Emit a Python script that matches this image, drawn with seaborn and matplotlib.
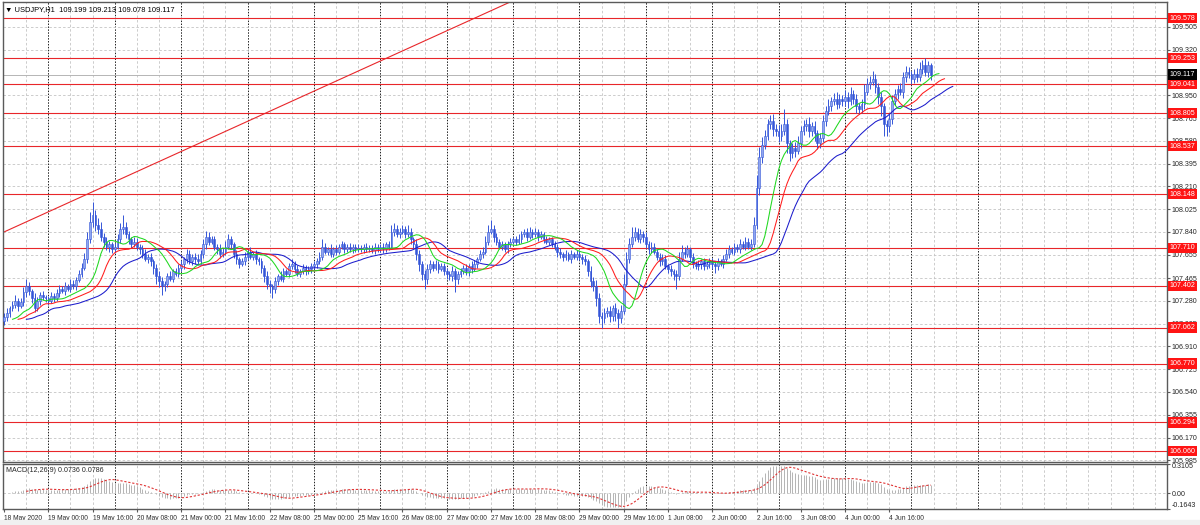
import numpy as np
import pandas as pd
import matplotlib
matplotlib.use("Agg")
import matplotlib.pyplot as plt
import matplotlib.transforms as mtransforms
from matplotlib.patches import Rectangle
import seaborn as sns

# USDJPY H1, one close per bar (open = previous close)
first_open = 107.12
closes = [
    # 18 May (from 08:00)
    107.15, 107.18, 107.22, 107.25, 107.28, 107.24, 107.27, 107.35, 107.40, 107.36, 107.30, 107.22, 107.28, 107.33, 107.31, 107.30,
    # 19 May
    107.28, 107.32, 107.30, 107.34, 107.38, 107.36, 107.40, 107.38, 107.42, 107.40, 107.45, 107.50, 107.55, 107.62, 107.78, 107.92,
    107.98, 107.90, 107.86, 107.80, 107.76, 107.72, 107.74, 107.70,
    # 20 May
    107.72, 107.78, 107.86, 107.88, 107.82, 107.78, 107.74, 107.76, 107.72, 107.70, 107.66, 107.62, 107.64, 107.60, 107.55, 107.48,
    107.44, 107.40, 107.42, 107.48, 107.46, 107.52, 107.50, 107.55,
    # 21 May
    107.58, 107.62, 107.66, 107.60, 107.64, 107.62, 107.60, 107.66, 107.74, 107.80, 107.76, 107.78, 107.72, 107.70, 107.66, 107.68,
    107.72, 107.78, 107.74, 107.66, 107.62, 107.58, 107.60, 107.64,
    # 22 May
    107.68, 107.64, 107.66, 107.62, 107.60, 107.55, 107.48, 107.42, 107.40, 107.38, 107.44, 107.48, 107.46, 107.52, 107.50, 107.56,
    107.58, 107.54, 107.50, 107.52, 107.55, 107.52, 107.54, 107.56,
    # 25 May
    107.58, 107.60, 107.64, 107.72, 107.68, 107.70, 107.66, 107.70, 107.68, 107.72, 107.74, 107.70, 107.72, 107.70, 107.72, 107.70,
    107.71, 107.70, 107.72, 107.70, 107.71, 107.69, 107.72, 107.70,
    # 26 May
    107.72, 107.70, 107.74, 107.72, 107.84, 107.86, 107.82, 107.84, 107.86, 107.82, 107.84, 107.78, 107.74, 107.66, 107.58, 107.50,
    107.46, 107.54, 107.58, 107.55, 107.58, 107.54, 107.56, 107.52,
    # 27 May
    107.50, 107.48, 107.52, 107.46, 107.50, 107.52, 107.55, 107.52, 107.56, 107.54, 107.58, 107.62, 107.66, 107.68, 107.76, 107.84,
    107.86, 107.80, 107.76, 107.72, 107.74, 107.70, 107.74, 107.76,
    # 28 May
    107.78, 107.76, 107.78, 107.82, 107.84, 107.80, 107.84, 107.82, 107.84, 107.80, 107.82, 107.78, 107.76, 107.78, 107.74, 107.72,
    107.68, 107.66, 107.64, 107.66, 107.62, 107.66, 107.64, 107.66,
    # 29 May
    107.64, 107.62, 107.60, 107.52, 107.44, 107.40, 107.30, 107.16, 107.14, 107.18, 107.20, 107.16, 107.22, 107.18, 107.14, 107.20,
    107.42, 107.62, 107.74, 107.80, 107.84, 107.78, 107.82, 107.80,
    # 1 Jun
    107.74, 107.70, 107.72, 107.68, 107.64, 107.60, 107.62, 107.56, 107.54, 107.52, 107.50, 107.48, 107.62, 107.68, 107.66, 107.70,
    107.64, 107.58, 107.56, 107.58, 107.60, 107.56, 107.58, 107.60,
    # 2 Jun
    107.58, 107.56, 107.60, 107.58, 107.62, 107.66, 107.70, 107.68, 107.72, 107.70, 107.74, 107.72, 107.76, 107.72, 107.74, 107.90,
    108.20, 108.45, 108.55, 108.62, 108.72, 108.74, 108.68, 108.66,
    # 3 Jun
    108.62, 108.66, 108.72, 108.56, 108.48, 108.52, 108.50, 108.56, 108.66, 108.70, 108.72, 108.66, 108.70, 108.64, 108.56, 108.60,
    108.74, 108.82, 108.86, 108.90, 108.92, 108.88, 108.92, 108.90,
    # 4 Jun
    108.94, 108.90, 108.96, 108.92, 108.86, 108.84, 108.88, 108.98, 109.04, 109.06, 109.08, 109.02, 108.94, 108.86, 108.72, 108.70,
    108.76, 108.90, 108.96, 109.00, 108.98, 109.10, 109.14, 109.12,
    # 5 Jun
    109.08, 109.12, 109.10, 109.16, 109.20, 109.14, 109.199, 109.117,
]
# wick lengths in pips (0.01) above / below the candle body
up_wick = [
    3, 4, 2, 3, 5, 2, 3, 4, 6, 3, 2, 4, 3, 2, 3, 2,
    2, 3, 2, 4, 3, 2, 3, 2, 4, 3, 2, 3, 4, 5, 6, 8, 10, 4, 5, 6, 3, 4, 3, 2,
    3, 4, 5, 10, 4, 3, 2, 4, 3, 2, 3, 4, 2, 3, 2, 3, 4, 3, 2, 3, 4, 2, 3, 3,
    3, 2, 4, 3, 2, 3, 4, 3, 4, 5, 4, 3, 3, 2, 4, 3, 5, 4, 3, 2, 3, 2, 3, 4,
    3, 4, 2, 3, 2, 3, 2, 4, 3, 2, 3, 2, 4, 3, 2, 3, 4, 2, 3, 2, 3, 2, 2, 3,
    2, 3, 4, 6, 3, 2, 4, 2, 3, 2, 3, 2, 2, 3, 2, 2, 3, 2, 2, 3, 2, 2, 3, 2,
    2, 3, 2, 3, 6, 5, 4, 3, 4, 3, 6, 3, 2, 4, 3, 2, 3, 4, 3, 2, 3, 2, 3, 3,
    3, 2, 4, 3, 2, 3, 2, 3, 2, 4, 3, 2, 3, 4, 5, 6, 8, 4, 3, 2, 3, 2, 3, 3,
    2, 3, 4, 3, 2, 3, 4, 2, 3, 2, 3, 2, 3, 2, 2, 3, 2, 3, 2, 3, 2, 3, 2, 3,
    3, 2, 3, 2, 4, 3, 5, 4, 3, 4, 3, 4, 3, 4, 3, 5, 8, 6, 5, 8, 4, 3, 4, 3,
    4, 3, 4, 3, 2, 3, 4, 3, 2, 3, 2, 3, 6, 5, 4, 3, 2, 3, 2, 3, 2, 3, 2, 3,
    3, 2, 3, 2, 3, 4, 3, 2, 3, 2, 4, 3, 4, 3, 4, 6, 10, 8, 6, 5, 4, 5, 6, 4,
    5, 6, 12, 4, 3, 4, 5, 6, 4, 5, 4, 5, 3, 4, 3, 4, 5, 4, 6, 4, 5, 6, 4, 3,
    5, 4, 6, 3, 4, 3, 4, 6, 5, 5, 7, 4, 3, 4, 3, 3, 4, 5, 4, 3, 5, 4, 5, 4,
    3, 4, 5, 6, 4, 5, 3, 1.4,
]
dn_wick = [
    4, 3, 3, 2, 3, 4, 2, 3, 4, 3, 4, 3, 2, 3, 2, 3,
    3, 2, 3, 2, 3, 2, 3, 2, 3, 2, 3, 2, 3, 2, 3, 3, 4, 5, 4, 3, 4, 3, 4, 3,
    3, 2, 3, 4, 3, 4, 3, 2, 3, 4, 3, 2, 3, 4, 5, 6, 5, 7, 4, 3, 2, 3, 2, 3,
    3, 4, 3, 2, 3, 4, 3, 2, 3, 4, 3, 2, 3, 4, 3, 2, 3, 2, 4, 3, 4, 3, 2, 3,
    3, 2, 3, 4, 3, 4, 5, 4, 6, 8, 4, 3, 2, 3, 2, 3, 2, 3, 2, 3, 2, 3, 2, 3,
    2, 3, 2, 3, 2, 3, 2, 2, 3, 2, 2, 3, 2, 2, 3, 2, 2, 2, 3, 2, 2, 2, 3, 2,
    2, 3, 2, 3, 2, 3, 2, 3, 2, 3, 2, 4, 3, 5, 6, 5, 8, 4, 3, 3, 2, 3, 2, 3,
    4, 3, 4, 11, 4, 3, 2, 3, 4, 3, 2, 3, 2, 3, 2, 3, 2, 4, 3, 2, 3, 2, 3, 2,
    2, 3, 2, 3, 2, 3, 2, 3, 2, 3, 2, 3, 2, 3, 2, 3, 4, 3, 4, 3, 2, 3, 2, 3,
    3, 4, 3, 4, 5, 4, 6, 6, 8, 4, 3, 5, 4, 6, 8, 4, 3, 2, 3, 2, 3, 2, 3, 4,
    3, 4, 3, 2, 3, 4, 3, 2, 3, 4, 5, 10, 3, 2, 3, 2, 4, 3, 2, 3, 4, 3, 2, 3,
    4, 5, 3, 2, 3, 2, 3, 2, 3, 2, 3, 2, 3, 2, 3, 2, 4, 6, 5, 4, 3, 4, 6, 4,
    5, 4, 3, 8, 6, 4, 5, 3, 4, 3, 4, 5, 4, 6, 5, 4, 3, 4, 3, 4, 3, 4, 3, 4,
    4, 5, 3, 4, 5, 4, 3, 4, 3, 4, 3, 5, 6, 8, 10, 8, 5, 4, 3, 4, 3, 5, 4, 3,
    4, 3, 4, 3, 4, 3, 4, 3.9,
]

levels = [109.578, 109.253, 109.041, 108.805, 108.537, 108.148, 107.710, 107.402, 107.062, 106.770, 106.294, 106.060]
last_price = 109.117
price_ticks = [109.505, 109.320, 108.950, 108.765, 108.580, 108.395, 108.210, 108.025, 107.840, 107.655,
               107.465, 107.280, 107.095, 106.910, 106.725, 106.540, 106.355, 106.170, 105.985]
trend_bars = [0, 190]
trend_prices = [107.84, 109.78]
time_labels = ["18 May 2020", "19 May 00:00", "19 May 16:00", "20 May 08:00", "21 May 00:00", "21 May 16:00",
               "22 May 08:00", "25 May 00:00", "25 May 16:00", "26 May 08:00", "27 May 00:00", "27 May 16:00",
               "28 May 08:00", "29 May 00:00", "29 May 16:00", "1 Jun 08:00", "2 Jun 00:00", "2 Jun 16:00",
               "3 Jun 08:00", "4 Jun 00:00", "4 Jun 16:00"]
macd_ticks = [0.3105, 0.0, -0.1643]
macd_tick_labels = ["0.3105", "0.00", "-0.1643"]
title = "\u25bc USDJPY,H1  109.199 109.213 109.078 109.117"
macd_title = "MACD(12,26,9) 0.0736 0.0786"

sns.set_style("white")
plt.rcParams['font.family'] = ['Liberation Sans', 'DejaVu Sans']
fs = 5.1

close = np.array(closes)
opens = np.r_[first_open, close[:-1]]
body_hi = np.maximum(opens, close)
body_lo = np.minimum(opens, close)
df = pd.DataFrame({
    "bar": np.arange(len(close)),
    "open": opens,
    "close": close,
    "high": body_hi + np.array(up_wick) / 100,
    "low": body_lo - np.array(dn_wick) / 100,
})

# Alligator (SMMA of median price, shifted forward)
median = (df.high + df.low) / 2
def smma(s, n):
    return s.ewm(alpha=1 / n, adjust=False).mean()
gator = pd.concat([
    pd.DataFrame({"bar": df.bar + 8, "val": smma(median, 13), "line": "jaw"}),
    pd.DataFrame({"bar": df.bar + 5, "val": smma(median, 8), "line": "teeth"}),
    pd.DataFrame({"bar": df.bar + 3, "val": smma(median, 5), "line": "lips"}),
])

# MACD 12,26,9 (MT4 style: EMA difference, SMA signal)
macd = df.close.ewm(span=12, adjust=False).mean() - df.close.ewm(span=26, adjust=False).mean()
signal = macd.rolling(9).mean()

fig = plt.figure(figsize=(12, 5.25), dpi=100)
ax = fig.add_axes([3 / 1200, 1 - 462 / 525, 1164 / 1200, 460 / 525])
axm = fig.add_axes([3 / 1200, 1 - 509 / 525, 1164 / 1200, 45.5 / 525], sharex=ax)
fig.patches.append(Rectangle((0, 0), 1, 5 / 525, transform=fig.transFigure, color='#f0f0f0', zorder=0))

xmax = 420.4
for a in (ax, axm):
    for i in range(8, int(xmax) + 1, 8):
        if (i - 16) % 24 == 0 and i <= 352:
            a.axvline(i, color='#202020', lw=0.7, ls=(0, (1.5, 1.5)), zorder=1)
        else:
            a.axvline(i, color='#c4c4c4', lw=0.6, ls=(0, (3, 2.5)), zorder=1)
    for s in a.spines.values():
        s.set_color('#5a5a5a')
        s.set_linewidth(1.0)

for p in price_ticks:
    ax.axhline(p, color='#c4c4c4', lw=0.6, ls=(0, (3, 2.5)), zorder=1)

for lv in levels:
    ax.axhline(lv, color='#e8262a', lw=0.8, zorder=2)
ax.axhline(last_price, color='#b5b5b5', lw=0.7, zorder=2)
ax.plot(trend_bars, trend_prices, color='#e8262a', lw=0.8, zorder=2)

blue = '#3556d8'
ax.vlines(df.bar, df.low, df.high, color=blue, lw=0.7, zorder=3)
bull = df.close >= df.open
ax.bar(df.bar, np.maximum(body_hi - body_lo, 0.004), bottom=body_lo, width=0.62,
       color=np.where(bull, '#8fa6f0', blue), edgecolor=blue, linewidth=0.4, zorder=3)

sns.lineplot(data=gator, x="bar", y="val", hue="line", ax=ax, legend=False, errorbar=None,
             palette={"jaw": "#1c1ccc", "teeth": "#ff1c1c", "lips": "#1fd81f"}, lw=0.75, zorder=4)

ax.set_xlim(-0.4, xmax)
ax.set_ylim(105.971, 109.708)
ax.set_xlabel("")
ax.set_ylabel("")
ax.yaxis.tick_right()
ax.set_yticks(price_ticks)
ax.set_yticklabels([f"{p:.3f}" for p in price_ticks])
ax.tick_params(axis='y', length=2, pad=1.5, labelsize=fs, color='#5a5a5a')
ax.tick_params(axis='x', bottom=False, labelbottom=False)

trans = mtransforms.blended_transform_factory(ax.transAxes, ax.transData)
for lv in levels:
    ax.text(1.0022, lv, f"{lv:.3f}", transform=trans, ha='left', va='center', color='white', fontsize=fs,
            bbox=dict(boxstyle='square,pad=0.25', fc='#ff1414', ec='none'), clip_on=False, zorder=6)
ax.text(1.0022, last_price, f"{last_price:.3f}", transform=trans, ha='left', va='center', color='white',
        fontsize=fs, bbox=dict(boxstyle='square,pad=0.25', fc='black', ec='none'), clip_on=False, zorder=6)
ax.text(0.002, 0.992, title, transform=ax.transAxes, ha='left', va='top', fontsize=fs + 0.3, color='black')

# MACD panel
axm.axhline(0, color='#c4c4c4', lw=0.6, ls=(0, (3, 2.5)), zorder=1)
axm.vlines(df.bar, 0, macd, color='#b4b4b4', lw=0.7, zorder=2)
sns.lineplot(x=df.bar, y=signal, ax=axm, color='#e03434', lw=0.8, linestyle=(0, (2, 1.6)), zorder=3)
axm.set_ylim(-0.1643, 0.3105)
axm.set_xlabel("")
axm.set_ylabel("")
axm.yaxis.tick_right()
axm.set_yticks(macd_ticks)
axm.set_yticklabels(macd_tick_labels)
axm.tick_params(axis='y', length=2, pad=1.5, labelsize=fs, color='#5a5a5a')
ylabs = axm.get_yticklabels()
ylabs[0].set_va('top')
ylabs[2].set_va('bottom')
axm.set_xticks(range(0, 16 * len(time_labels), 16))
axm.set_xticklabels(time_labels)
axm.tick_params(axis='x', length=2.5, pad=1.5, labelsize=4.8, color='#5a5a5a', bottom=True)
for lab in axm.get_xticklabels():
    lab.set_ha('left')
axm.text(0.003, 0.92, macd_title, transform=axm.transAxes, ha='left', va='top', fontsize=fs)

fig.savefig("out.png", dpi=100)
